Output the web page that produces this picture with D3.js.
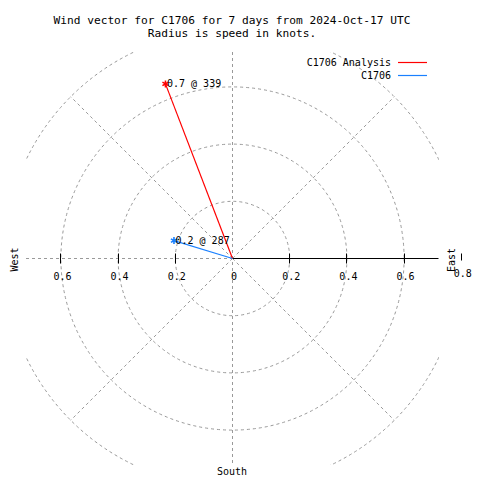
<!DOCTYPE html>
<html>
<head>
<meta charset="utf-8">
<script src="https://cdn.jsdelivr.net/npm/d3@7"></script>
<style>
  html, body { margin: 0; padding: 0; background: #fff; }
  svg { display: block; }
  text { font-family: "DejaVu Sans Mono", "Liberation Mono", monospace; fill: #000; }
</style>
</head>
<body>
<svg id="chart" width="480" height="480"></svg>
<script>
// ---- data ----
const titleLines = ["Wind vector for C1706 for 7 days from 2024-Oct-17 UTC", "Radius is speed in knots."];
const seriesNames = ["C1706 Analysis", "C1706"];
const seriesColors = ["#ff0000", "#1a80ff"];
const speeds = [0.654, 0.214];          // knots
const directions = [339, 287];          // degrees clockwise from north
const pointLabels = ["0.7 @ 339", "0.2 @ 287"];
const ringValues = [0.2, 0.4, 0.6, 0.8];
const tickValues = [0.2, 0.4, 0.6, 0.8];
const spokeAngles = [45, 135, 225, 315];

// ---- layout ----
const svg = d3.select("#chart");
const cx = 232.5, cy = 258.5;
const half = 206.5;
const r = d3.scaleLinear().domain([0, 0.8]).range([0, 228.8]);
const gridColor = "#999999";
const dash = "3,3";

// title
svg.append("g").selectAll("text").data(titleLines).join("text")
  .attr("x", 232).attr("y", (d, i) => 23.5 + i * 13)
  .attr("text-anchor", "middle").attr("font-size", 11.2)
  .text(d => d);

// clip
svg.append("clipPath").attr("id", "plotclip").append("rect")
  .attr("x", cx - half).attr("y", cy - half).attr("width", 2 * half).attr("height", 2 * half);

const g = svg.append("g").attr("transform", `translate(${cx},${cy})`);
const grid = g.append("g").attr("clip-path", "url(#plotclip)").attr("transform", `translate(${-cx},${-cy})`)
  .append("g").attr("transform", `translate(${cx},${cy})`);

// rings
grid.selectAll("circle.ring").data(ringValues).join("circle")
  .attr("class", "ring")
  .attr("r", d => r(d)).attr("fill", "none")
  .attr("stroke", gridColor).attr("stroke-dasharray", dash).attr("stroke-width", 1);

// diagonal spokes (to outer ring)
const L = r(0.8);
grid.selectAll("line.spoke").data(spokeAngles).join("line")
  .attr("x1", 0).attr("y1", 0)
  .attr("x2", d => L * Math.sin(d * Math.PI / 180))
  .attr("y2", d => -L * Math.cos(d * Math.PI / 180))
  .attr("stroke", gridColor).attr("stroke-dasharray", dash);

// N-S line
grid.append("line").attr("x1", 0).attr("x2", 0).attr("y1", -half).attr("y2", half)
  .attr("stroke", gridColor).attr("stroke-dasharray", dash);
// west dashed line
grid.append("line").attr("x1", -half).attr("x2", 0).attr("y1", 0).attr("y2", 0)
  .attr("stroke", gridColor).attr("stroke-dasharray", dash);
// east solid axis
g.append("line").attr("x1", 0).attr("x2", half - 0.5).attr("y1", 0).attr("y2", 0)
  .attr("stroke", "#000").attr("stroke-width", 1);

// ticks
g.selectAll("line.etick").data(tickValues).join("line")
  .attr("x1", d => Math.round(r(d))).attr("x2", d => Math.round(r(d)))
  .attr("y1", -5).attr("y2", d => d === 0.8 ? 2 : 5)
  .attr("stroke", "#000");
g.selectAll("line.wtick").data(tickValues.filter(d => d < 0.8)).join("line")
  .attr("x1", d => -Math.round(r(d))).attr("x2", d => -Math.round(r(d)))
  .attr("y1", -5).attr("y2", 5).attr("stroke", "#000");

// tick labels
const fmt = d3.format(".1f");
g.selectAll("text.et").data(tickValues).join("text")
  .attr("x", d => r(d) + 1.5).attr("y", d => d === 0.8 ? 18 : 21.5)
  .attr("text-anchor", "middle").attr("font-size", 10).text(d => fmt(d));
g.selectAll("text.wt").data(tickValues.filter(d => d < 0.8)).join("text")
  .attr("x", d => -r(d) + 1.5).attr("y", 21.5)
  .attr("text-anchor", "middle").attr("font-size", 10).text(d => fmt(d));
g.append("text").attr("x", 1.5).attr("y", 21.5).attr("text-anchor", "middle")
  .attr("font-size", 10).text("0");

// direction labels
svg.append("text").attr("transform", "translate(18,259.5) rotate(-90)")
  .attr("text-anchor", "middle").attr("font-size", 10).text("West");
svg.append("text").attr("transform", "translate(455,260) rotate(-90)")
  .attr("text-anchor", "middle").attr("font-size", 10).text("East");
svg.append("text").attr("x", 232).attr("y", 474.5)
  .attr("text-anchor", "middle").attr("font-size", 10).text("South");

// vectors
const pts = speeds.map((s, i) => {
  const a = directions[i] * Math.PI / 180;
  return { x: r(s) * Math.sin(a), y: -r(s) * Math.cos(a), c: seriesColors[i], lab: pointLabels[i] };
});
g.selectAll("line.vec").data(pts).join("line")
  .attr("x1", 0).attr("y1", 0).attr("x2", d => d.x).attr("y2", d => d.y)
  .attr("stroke", d => d.c).attr("stroke-width", 1.2);
const star = d3.symbol().type(d3.symbolAsterisk).size(34);
g.selectAll("path.mk").data(pts).join("path")
  .attr("transform", d => `translate(${d.x},${d.y})`)
  .attr("d", star).attr("fill", "none").attr("stroke", d => d.c).attr("stroke-width", 1.6);
g.selectAll("text.pl").data(pts).join("text")
  .attr("x", d => d.x + 1.5).attr("y", d => d.y + 3)
  .attr("font-size", 10).text(d => d.lab);

// legend
const leg = svg.append("g");
seriesNames.forEach((n, i) => {
  const y = 62 + i * 13;
  leg.append("text").attr("x", 391).attr("y", y + 4).attr("text-anchor", "end")
    .attr("font-size", 10).text(n);
  leg.append("line").attr("x1", 398).attr("x2", 427).attr("y1", y + 0.5).attr("y2", y + 0.5)
    .attr("stroke", seriesColors[i]).attr("stroke-width", 1.2);
});
</script>
</body>
</html>
